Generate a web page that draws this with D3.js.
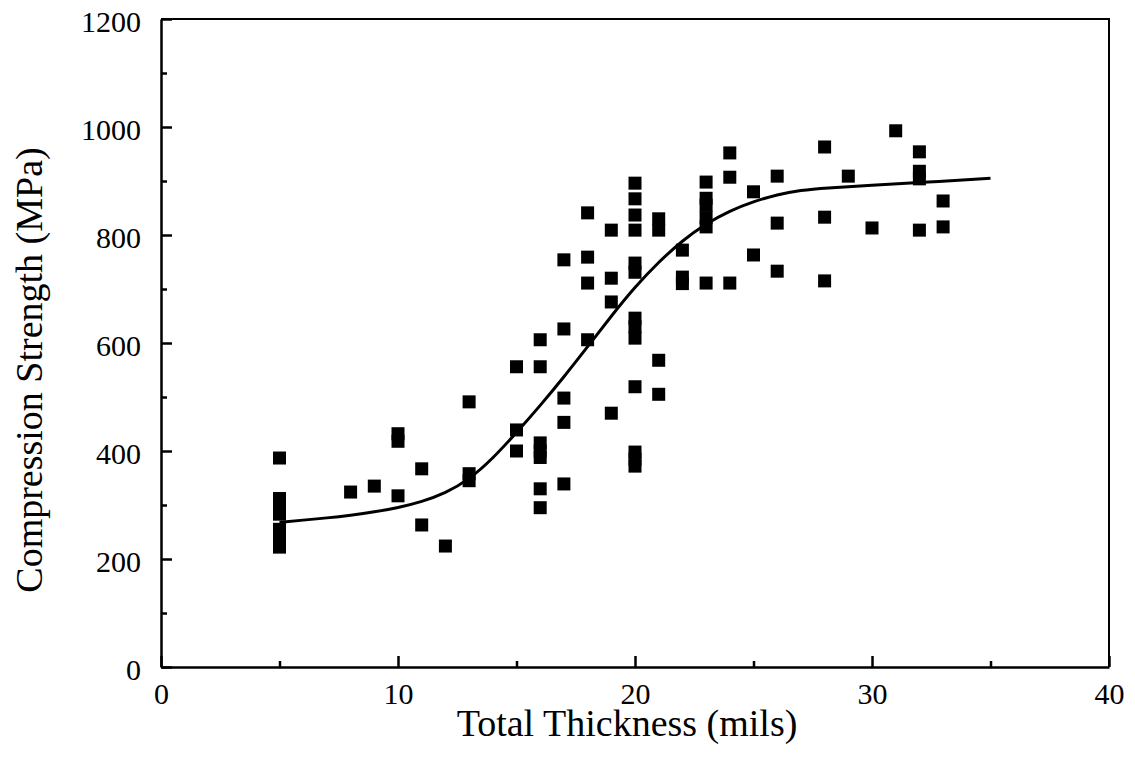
<!DOCTYPE html>
<html>
<head>
<meta charset="utf-8">
<script src="https://cdn.jsdelivr.net/npm/d3@7"></script>
<style>
  body { margin: 0; background: #fff; }
  svg { display: block; }
  text { font-family: "Liberation Serif", "Times New Roman", serif; fill: #000; }
</style>
</head>
<body>
<svg width="1135" height="762"></svg>
<script>
// measured points: thickness (mils) and strength (MPa)
var thickness = [
  5, 5, 5, 5, 5, 5, 5,
  8, 9,
  10, 10, 10,
  11, 11, 12,
  13, 13, 13,
  15, 15, 15,
  16, 16, 16, 16, 16, 16, 16,
  17, 17, 17, 17, 17,
  18, 18, 18, 18,
  19, 19, 19, 19,
  20, 20, 20, 20, 20, 20, 20, 20, 20, 20, 20, 20, 20,
  21, 21, 21, 21,
  22, 22, 22,
  23, 23, 23, 23, 23, 23,
  24, 24, 24,
  25, 25,
  26, 26, 26,
  28, 28, 28,
  29, 30, 31,
  32, 32, 32, 32,
  33, 33
];
var strength = [
  387, 312, 298, 283, 255, 238, 222,
  324, 335,
  432, 418, 317,
  367, 263, 224,
  491, 358, 345,
  556, 439, 400,
  606, 556, 415, 400, 388, 330, 295,
  754, 626, 498, 453, 339,
  841, 759, 711, 606,
  809, 720, 676, 470,
  896, 867, 837, 809, 748, 731, 646, 630, 609, 519, 398, 385, 372,
  830, 809, 568, 505,
  772, 722, 710,
  898, 868, 855, 832, 815, 711,
  952, 907, 711,
  880, 763,
  909, 822, 733,
  963, 833, 715,
  909, 813, 993,
  954, 918, 904, 809,
  863, 815
];

// fitted curve
var fitX = [5, 6, 7, 8, 9, 10, 11, 12, 13, 14, 15, 16, 17, 18, 19, 20, 21, 22, 23, 24, 25, 26, 27, 28, 30, 32, 35];
var fitY = [268, 272, 276, 281, 287, 295, 306, 322, 347, 386, 434, 484, 537, 593, 650, 704, 750, 790, 821, 845, 862, 875, 883, 887, 892, 897, 905];

var xMajor = [0, 10, 20, 30, 40];
var xMinor = [5, 15, 25, 35];
var yMajor = [0, 200, 400, 600, 800, 1000, 1200];
var yMinor = [100, 300, 500, 700, 900, 1100];

var svg = d3.select("svg");
var plotLeft = 161, plotRight = 1109, plotTop = 19, plotBottom = 667;

var x = d3.scaleLinear().domain([0, 40]).range([plotLeft, plotRight]);
var y = d3.scaleLinear().domain([0, 1200]).range([plotBottom, plotTop]);

// frame (top and right)
svg.append("path")
  .attr("d", "M" + plotLeft + "," + plotTop + "H" + plotRight + "V" + plotBottom)
  .attr("fill", "none")
  .attr("stroke", "#000")
  .attr("stroke-width", 2);

function styleAxis(g) {
  g.selectAll("path").attr("stroke", "#000").attr("stroke-width", 2.5);
  g.selectAll("line").attr("stroke", "#000").attr("stroke-width", 2.5);
}

var xAxis = svg.append("g")
  .attr("transform", "translate(0," + plotBottom + ")")
  .call(d3.axisBottom(x).tickValues(xMajor).tickSize(-11).tickSizeOuter(0).tickPadding(16).tickFormat(d3.format("d")));
styleAxis(xAxis);
xAxis.selectAll("text").attr("font-size", 30).attr("font-family", "Liberation Serif");

var xMin = svg.append("g")
  .attr("transform", "translate(0," + plotBottom + ")")
  .call(d3.axisBottom(x).tickValues(xMinor).tickSize(-6).tickSizeOuter(0).tickFormat(""));
styleAxis(xMin);
xMin.select("path").remove();

var yAxis = svg.append("g")
  .attr("transform", "translate(" + plotLeft + ",0)")
  .call(d3.axisLeft(y).tickValues(yMajor).tickSize(-11).tickSizeOuter(0).tickPadding(20).tickFormat(d3.format("d")));
styleAxis(yAxis);
yAxis.selectAll("text").attr("font-size", 30).attr("font-family", "Liberation Serif").attr("dy", "0.4em");

var yMin = svg.append("g")
  .attr("transform", "translate(" + plotLeft + ",0)")
  .call(d3.axisLeft(y).tickValues(yMinor).tickSize(-6).tickSizeOuter(0).tickFormat(""));
styleAxis(yMin);
yMin.select("path").remove();

// axis titles
svg.append("text")
  .attr("x", 627)
  .attr("y", 736)
  .attr("text-anchor", "middle")
  .attr("font-size", 38)
  .text("Total Thickness (mils)");

svg.append("text")
  .attr("transform", "translate(42,370) rotate(-90)")
  .attr("text-anchor", "middle")
  .attr("font-size", 38)
  .text("Compression Strength (MPa)");

// fitted curve
var line = d3.line()
  .x(function (d) { return x(d[0]); })
  .y(function (d) { return y(d[1]); })
  .curve(d3.curveBasis);

svg.append("path")
  .datum(fitX.map(function (v, i) { return [v, fitY[i]]; }))
  .attr("d", line)
  .attr("fill", "none")
  .attr("stroke", "#000")
  .attr("stroke-width", 3);

// square markers
var size = 13;
svg.append("g")
  .selectAll("rect")
  .data(thickness.map(function (v, i) { return [v, strength[i]]; }))
  .enter()
  .append("rect")
  .attr("x", function (d) { return x(d[0]) - size / 2; })
  .attr("y", function (d) { return y(d[1]) - size / 2; })
  .attr("width", size)
  .attr("height", size)
  .attr("fill", "#000");
</script>
</body>
</html>
